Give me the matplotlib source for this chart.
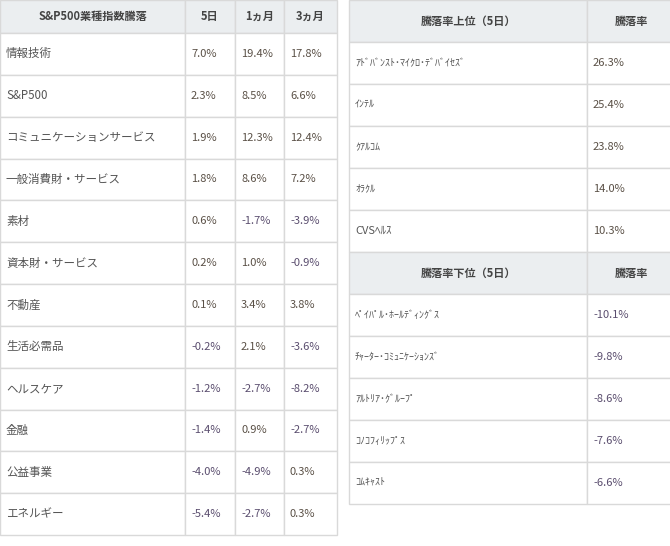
import matplotlib.pyplot as plt
from matplotlib.patches import Rectangle

plt.rcParams['font.family'] = ['Noto Sans CJK JP', 'DejaVu Sans']

# 左表：S&P500業種指数騰落
sectors = ['情報技術', 'S&P500', 'コミュニケーションサービス', '一般消費財・サービス', '素材',
           '資本財・サービス', '不動産', '生活必需品', 'ヘルスケア', '金融', '公益事業', 'エネルギー']
chg_5d = [7.0, 2.3, 1.9, 1.8, 0.6, 0.2, 0.1, -0.2, -1.2, -1.4, -4.0, -5.4]
chg_1m = [19.4, 8.5, 12.3, 8.6, -1.7, 1.0, 3.4, 2.1, -2.7, 0.9, -4.9, -2.7]
chg_3m = [17.8, 6.6, 12.4, 7.2, -3.9, -0.9, 3.8, -3.6, -8.2, -2.7, 0.3, 0.3]

# 右表：騰落率上位・下位（5日）
top_names = ['ｱﾄﾞﾊﾞﾝｽﾄ･ﾏｲｸﾛ･ﾃﾞﾊﾞｲｾｽﾞ', 'ｲﾝﾃﾙ', 'ｸｱﾙｺﾑ', 'ｵﾗｸﾙ', 'CVSﾍﾙｽ']
top_vals = [26.3, 25.4, 23.8, 14.0, 10.3]
bot_names = ['ﾍﾟｲﾊﾟﾙ･ﾎｰﾙﾃﾞｨﾝｸﾞｽ', 'ﾁｬｰﾀｰ･ｺﾐｭﾆｹｰｼｮﾝｽﾞ', 'ｱﾙﾄﾘｱ･ｸﾞﾙｰﾌﾟ', 'ｺﾉｺﾌｨﾘｯﾌﾟｽ', 'ｺﾑｷｬｽﾄ']
bot_vals = [-10.1, -9.8, -8.6, -7.6, -6.6]

HEAD_BG = '#ebeef0'
LINE = '#d9d9d9'
TXT = '#555555'
HEAD_TXT = '#444444'

fig = plt.figure(figsize=(6.7, 5.46), dpi=100)
ax = fig.add_axes([0, 0, 1, 1])
ax.set_xlim(0, 670)
ax.set_ylim(546, 0)
ax.axis('off')


def cell(x0, x1, y0, y1, text, head=False, align='left', color=TXT, size=8.3):
    ax.add_patch(Rectangle((x0, y0), x1 - x0, y1 - y0, facecolor=HEAD_BG if head else 'white',
                           edgecolor=LINE, linewidth=1))
    if align == 'center':
        ax.text((x0 + x1) / 2, (y0 + y1) / 2, text, ha='center', va='center',
                fontsize=size, color=HEAD_TXT if head else color, fontweight='bold' if head else 'normal')
    else:
        ax.text(x0 + 6, (y0 + y1) / 2, text, ha='left', va='center', fontsize=size, color=color)


def pct(v):
    return '%.1f%%' % v


def vcol(v):
    return '#5a4d6e' if v < 0 else '#5a5046'


# 左表
lx = [0, 185, 235, 284, 337]
cell(lx[0], lx[1], 0, 33, 'S&P500業種指数騰落', head=True, align='center', size=8)
cell(lx[1], lx[2], 0, 33, '5日', head=True, align='center', size=8)
cell(lx[2], lx[3], 0, 33, '1ヵ月', head=True, align='center', size=8)
cell(lx[3], lx[4], 0, 33, '3ヵ月', head=True, align='center', size=8)
rh = (535 - 33) / len(sectors)
for i, name in enumerate(sectors):
    y0 = 33 + i * rh
    y1 = y0 + rh
    cell(lx[0], lx[1], y0, y1, name)
    for j, vals in enumerate([chg_5d, chg_1m, chg_3m]):
        cell(lx[j + 1], lx[j + 2], y0, y1, pct(vals[i]), color=vcol(vals[i]), size=8)

# 右表
rx = [349, 587, 670]
rrh = 42
y = 0
for title, names, vals in [('騰落率上位（5日）', top_names, top_vals),
                           ('騰落率下位（5日）', bot_names, bot_vals)]:
    cell(rx[0], rx[1], y, y + rrh, title, head=True, align='center', size=8)
    cell(rx[1], rx[2] + 5, y, y + rrh, '騰落率', head=True, align='center', size=8)
    y += rrh
    for n, v in zip(names, vals):
        cell(rx[0], rx[1], y, y + rrh, n, size=7.2 if 'CVS' not in n else 8)
        cell(rx[1], rx[2] + 5, y, y + rrh, pct(v), color=vcol(v), size=8)
        y += rrh

fig.savefig('out.png', dpi=100)
